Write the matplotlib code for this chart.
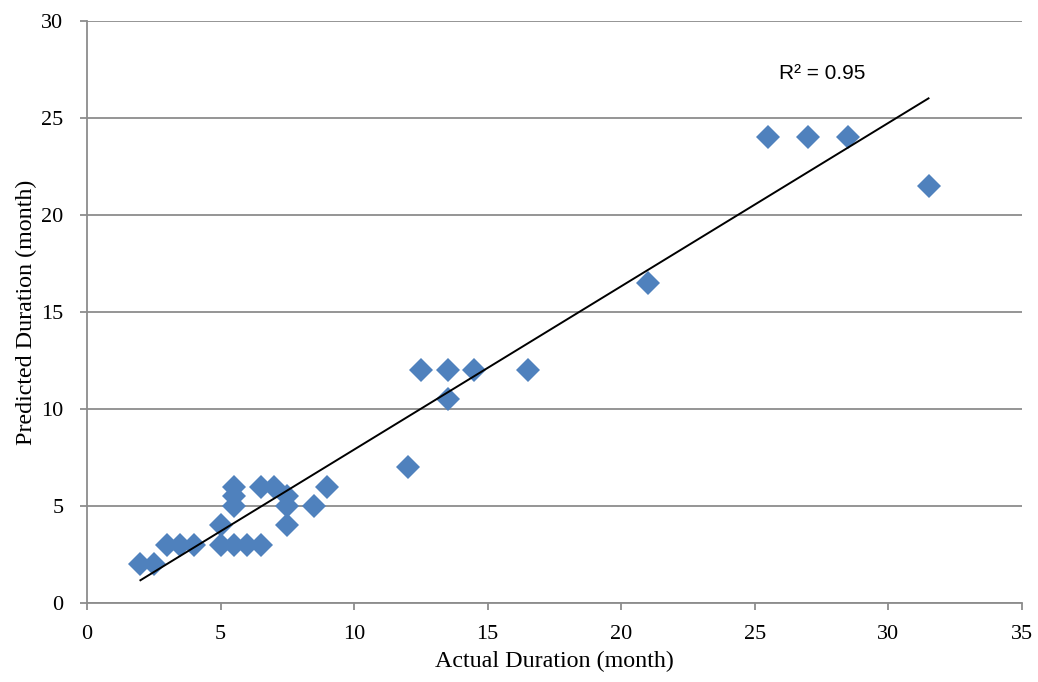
import matplotlib.pyplot as plt
import numpy as np

plt.rcParams['font.family'] = ['Liberation Serif', 'DejaVu Serif']

actual = [2, 2.5, 3, 3.5, 4, 5, 5, 5.5, 6, 6.5, 5.5, 5.5, 5.5, 6.5, 7, 7.5, 7.5, 7.5,
          8.5, 9, 12, 12.5, 13.5, 13.5, 14.5, 16.5, 21, 25.5, 27, 28.5, 31.5]
predicted = [2, 2, 3, 3, 3, 4, 3, 3, 3, 3, 6, 5.5, 5, 6, 6, 5.5, 5, 4,
             5, 6, 7, 12, 12, 10.5, 12, 12, 16.5, 24, 24, 24, 21.5]

# trendline as shown on the chart (slope, intercept)
trend_slope = 0.842
trend_intercept = -0.51

x = np.array(actual)
y = np.array(predicted)

fig = plt.figure(figsize=(10.38, 6.82), dpi=100)
ax = fig.add_axes([0.0838, 0.1158, 0.9008, 0.8534])

ax.plot(x, y, 'D', color='#4F81BD', markersize=12.5, markeredgewidth=0, zorder=3)

xs = np.array([x.min(), x.max()])
ax.plot(xs, trend_slope * xs + trend_intercept, color='black', lw=1.4, zorder=4)

ax.text(25.9, 27.3, 'R² = 0.95', fontsize=15, family=['Liberation Sans', 'DejaVu Sans'],
        va='center', ha='left')

ax.set_xlim(0, 35)
ax.set_ylim(0, 30)
ax.set_xticks(range(0, 36, 5))
ax.set_yticks(range(0, 31, 5))
ax.yaxis.grid(True, color='#8c8c8c', lw=1.3)
ax.set_axisbelow(True)
for s in ['top', 'right']:
    ax.spines[s].set_visible(False)
for s in ['left', 'bottom']:
    ax.spines[s].set_color('#8c8c8c')
    ax.spines[s].set_linewidth(1.3)
ax.tick_params(color='#8c8c8c', width=1.3, length=5, labelsize=16)
ax.tick_params(axis='x', pad=11)
ax.tick_params(axis='y', pad=12)

ax.set_xlabel('Actual Duration (month)', fontsize=17.3, labelpad=5)
ax.set_ylabel('Predicted Duration (month)', fontsize=17.3, labelpad=3)

fig.savefig('out.png', dpi=100)
